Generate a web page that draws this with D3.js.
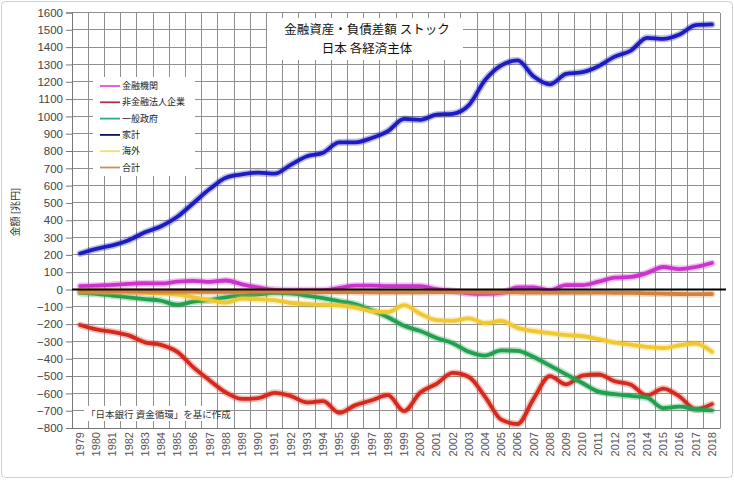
<!DOCTYPE html>
<html><head><meta charset="utf-8">
<script src="https://cdn.jsdelivr.net/npm/d3@7"></script>
<style>body{margin:0;background:#fff}svg{display:block}</style>
</head><body>
<svg id="c" width="734" height="480"></svg>
<script>
const years = d3.range(1979, 2019).map(String);
const yTicks = d3.range(-800, 1601, 100);
const seriesNames = ["金融機関","非金融法人企業","一般政府","家計","海外","合計"];
const financial = [20,22,27,32,36,35,45,50,44,52,30,12,-2,-5,-5,-5,10,22,22,20,20,20,2,-8,-22,-25,-20,12,12,-5,25,25,45,68,73,96,130,118,130,153];
const corporate = [-205,-230,-245,-265,-305,-320,-360,-450,-525,-595,-632,-628,-597,-615,-652,-645,-712,-668,-640,-610,-702,-595,-545,-482,-505,-620,-752,-777,-630,-500,-548,-498,-490,-530,-550,-612,-572,-618,-692,-662];
const government = [-20,-25,-35,-45,-55,-65,-88,-70,-62,-45,-35,-28,-20,-22,-35,-50,-68,-85,-120,-160,-210,-240,-280,-310,-360,-382,-352,-354,-390,-440,-490,-540,-590,-605,-615,-625,-685,-677,-692,-698];
const household = [208,235,255,285,330,365,420,500,580,646,665,675,669,720,770,790,850,850,875,915,985,980,1010,1015,1065,1210,1295,1323,1230,1185,1245,1255,1290,1345,1380,1454,1448,1473,1527,1531];
const overseas = [-10,-10,-12,-15,-18,-22,-30,-45,-62,-76,-52,-56,-62,-78,-85,-88,-92,-105,-125,-130,-90,-140,-177,-181,-167,-195,-182,-222,-240,-252,-263,-270,-287,-307,-318,-332,-338,-322,-312,-360];
const total = [-8,-8,-10,-10,-12,-12,-12,-12,-14,-14,-12,-12,-12,-14,-14,-15,-15,-15,-16,-16,-16,-16,-15,-15,-15,-16,-16,-17,-18,-18,-18,-18,-18,-19,-20,-22,-24,-26,-27,-26];
const lineColors = ["#cc33cc","#d42a1e","#22a050","#1c1cc0","#f0c832","#d2823c"];
const legendColors = ["#e050e0","#b03050","#30a880","#101060","#f0e070","#c89060"];
const title1 = "金融資産・負債差額 ストック";
const title2 = "日本 各経済主体";
const yTitle = "金額 [兆円]";
const note = "「日本銀行 資金循環」を基に作成";

const data = [financial, corporate, government, household, overseas, total];
const svg = d3.select("#c");
const jp = "'Noto Sans CJK JP','Noto Sans',sans-serif";
const num = "'Liberation Sans',Arial,sans-serif";

svg.append("rect").attr("x",1.5).attr("y",1.5).attr("width",731).attr("height",476)
  .attr("rx",4).attr("fill","#fff").attr("stroke","#cfcfcf");

const L=72, R=720, T=12.5, B=428;
const x = d3.scaleBand().domain(years).range([L,R]).padding(0);
const y = d3.scaleLinear().domain([-800,1600]).range([B,T]);

// grid
const g = svg.append("g");
g.selectAll(".hg").data(yTicks).join("line")
  .attr("x1",L).attr("x2",R).attr("y1",d=>y(d)).attr("y2",d=>y(d))
  .attr("stroke","#8f8f8f").attr("stroke-width",1).attr("shape-rendering","crispEdges");
g.selectAll(".vg").data(years).join("line")
  .attr("x1",(d,i)=>L+(i+1)*x.bandwidth()).attr("x2",(d,i)=>L+(i+1)*x.bandwidth())
  .attr("y1",T).attr("y2",B)
  .attr("stroke","#8f8f8f").attr("stroke-width",1).attr("shape-rendering","crispEdges");

// axes
const ya = d3.axisLeft(y).tickValues(yTicks).tickFormat(d3.format("d")).tickSize(6).tickPadding(3);
const yg = svg.append("g").attr("transform",`translate(${L},0)`).call(ya);
yg.selectAll("text").attr("font-family",num).attr("font-size",11.5).attr("fill","#444");
yg.selectAll("line,path").attr("stroke","#777");

const xa = d3.axisBottom(x).tickSize(0).tickPadding(5);
const xg = svg.append("g").attr("transform",`translate(0,${B})`).call(xa);
xg.select("path").attr("stroke","#777");
xg.selectAll("text").attr("font-family",num).attr("font-size",11).attr("fill","#555")
  .attr("text-anchor","end").attr("dy","0.35em")
  .attr("transform","translate(0,4) rotate(-90)").attr("x",0).attr("y",0);

// y title
svg.append("text").attr("transform","translate(19,212) rotate(-90)")
  .attr("text-anchor","middle").attr("font-family",jp).attr("font-size",10).attr("fill","#333").text(yTitle);

// title box
svg.append("rect").attr("x",267).attr("y",18).attr("width",196).attr("height",42).attr("fill","#fff");
svg.append("text").attr("x",367).attr("y",34).attr("text-anchor","middle")
  .attr("font-family",jp).attr("font-size",12.5).attr("fill","#111").text(title1);
svg.append("text").attr("x",367).attr("y",52.5).attr("text-anchor","middle")
  .attr("font-family",jp).attr("font-size",12.5).attr("fill","#111").text(title2);

// note
svg.append("rect").attr("x",84).attr("y",406).attr("width",122).attr("height",15).attr("fill","#fff");
svg.append("text").attr("x",86).attr("y",417.5).attr("font-family",jp).attr("font-size",9.5)
  .attr("fill","#333").text(note);

// legend
const lg = svg.append("g");
lg.append("rect").attr("x",93).attr("y",77).attr("width",102).attr("height",99).attr("fill","#fff");
seriesNames.forEach((n,i)=>{
  const yy = 86 + i*16.3;
  lg.append("line").attr("x1",100).attr("x2",120).attr("y1",yy).attr("y2",yy)
    .attr("stroke",legendColors[i]).attr("stroke-width",1.8);
  lg.append("text").attr("x",122).attr("y",yy).attr("dy","0.35em")
    .attr("font-family",jp).attr("font-size",9).attr("fill","#222").text(n);
});

// lines
const line = d3.line().x((d,i)=>x(years[i])+x.bandwidth()/2).y(d=>y(d)).curve(d3.curveMonotoneX);
data.forEach((s,i)=>{
  svg.append("path").attr("d",line(s)).attr("fill","none").attr("stroke",lineColors[i])
    .attr("stroke-width",7).attr("stroke-opacity",0.3).attr("stroke-linejoin","round").attr("stroke-linecap","round");
  svg.append("path").attr("d",line(s)).attr("fill","none").attr("stroke",lineColors[i])
    .attr("stroke-width",3.8).attr("stroke-linejoin","round").attr("stroke-linecap","round");
});

// zero line
svg.append("line").attr("x1",L).attr("x2",726).attr("y1",y(0)).attr("y2",y(0))
  .attr("stroke","#000").attr("stroke-width",2);
</script>
</body></html>
